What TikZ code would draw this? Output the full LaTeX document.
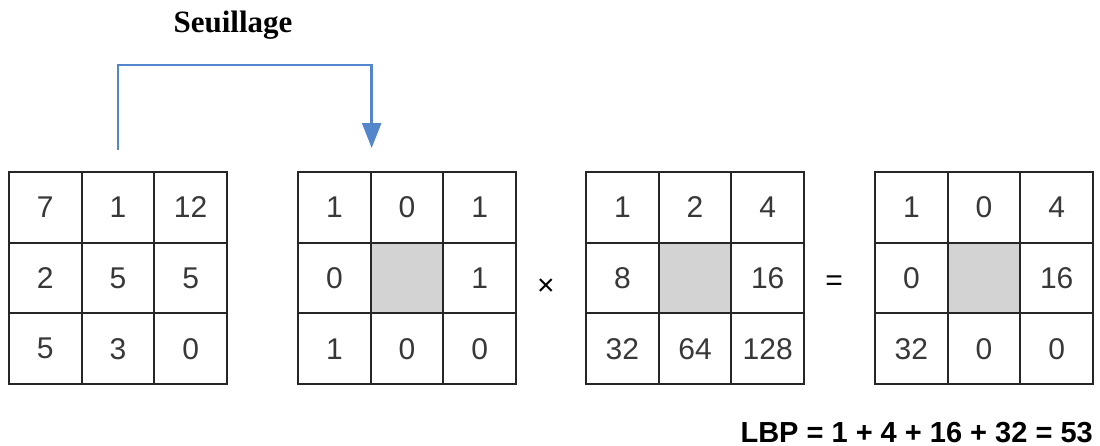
\documentclass[tikz,border=0pt]{standalone}
\usepackage{fontspec}
\setmainfont{Liberation Sans}
\newfontfamily\titlefont{Liberation Serif}
\usepackage{tikz}
\usetikzlibrary{arrows.meta, positioning}
\definecolor{seuilblue}{RGB}{84,134,204}
\definecolor{midgray}{RGB}{211,211,211}
\tikzset{
    cell/.style={rectangle, minimum width=72.67pt, minimum height=70.67pt, inner sep=0pt, draw=black!85, line width=2pt, text=black!78, font=\fontsize{30}{36}\selectfont},
    operator/.style={font=\fontsize{30}{36}\selectfont, inner sep=0pt},
    seuil/.style={draw=seuilblue, line width=2.5pt, -{Triangle[length=25pt,width=19pt]}},
}

\begin{document}
\begin{tikzpicture}[x=1pt,y=-1pt]
  \useasboundingbox (0,0) rectangle (1100,446);

  % the four 3x3 grids
  \foreach \g/\gx/\vals/\mid in {1/9/{7,1,12,2,5,5,5,3,0}/white,
                                 2/298/{1,0,1,0,,1,1,0,0}/midgray,
                                 3/586/{1,2,4,8,,16,32,64,128}/midgray,
                                 4/875/{1,0,4,0,,16,32,0,0}/midgray} {
    \foreach \v [count=\i from 0] in \vals {
      \pgfmathtruncatemacro\r{int(\i/3)+1}
      \pgfmathtruncatemacro\c{mod(\i,3)+1}
      \ifnum\i=4 \def\fc{\mid}\else\def\fc{white}\fi
      \node[cell, fill=\fc] (g\g-\r\c) at (\gx+72.67*\c-36.33, 172+70.67*\r-35.33) {\v};
    }
  }

  \node[operator] (times)  at (546,287) {×};
  \node[operator] (equals) at (834,283) {=};

  \node[font=\titlefont\bfseries\fontsize{31}{36}\selectfont, anchor=base] (title) at (233,33) {Seuillage};
  \node[font=\bfseries\fontsize{29}{34}\selectfont, anchor=base east, inner sep=0pt] (lbp) at (1093,442) {LBP = 1 + 4 + 16 + 32 = 53};

  \draw[seuil] ([yshift=21pt]g1-12.north) -- ++(0,85pt) -| ([yshift=23pt]g2-11.north east);
\end{tikzpicture}
\end{document}
